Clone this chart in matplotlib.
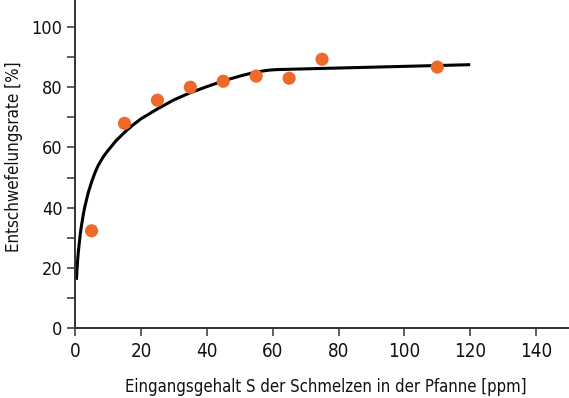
import numpy as np
import matplotlib.pyplot as plt

plt.rcParams['font.family'] = ['DejaVu Sans']
plt.rcParams['font.stretch'] = 'condensed'

# Messpunkte
s_ppm = [5, 15, 25, 35, 45, 55, 65, 75, 110]
rate = [32.3, 68, 75.7, 80, 82, 83.7, 83, 89.3, 86.7]

# Ausgleichskurve
curve_x = [0.4, 0.6, 0.8, 1, 1.3, 1.6, 2, 2.5, 3, 3.5, 4, 5, 6, 7, 8.5, 10, 12.5, 15, 17.5,
           20, 25, 30, 35, 40, 45, 50, 54, 57, 59, 61, 64, 120]
curve_y = [16, 20, 23, 25.5, 28.5, 31.5, 34.5, 37.8, 40.5, 42.8, 45, 48.5, 51.5, 54, 56.8,
           59, 62.3, 65, 67.4, 69.5, 72.8, 75.8, 78.2, 80.2, 82.1, 83.7, 84.8, 85.4, 85.7,
           85.85, 85.95, 87.5]

x_ticks = [0, 20, 40, 60, 80, 100, 120, 140]
y_major = [0, 20, 40, 60, 80, 100]
y_minor = [10, 30, 50, 70, 90]

fig = plt.figure(figsize=(5.69, 3.98), dpi=100)
ax = fig.add_axes([0.132, 0.176, 0.868, 0.824])

ax.plot(curve_x, curve_y, color='black', linewidth=2.2, solid_capstyle='butt',
        solid_joinstyle='round', zorder=2)
ax.scatter(s_ppm, rate, s=90, color='#EE6A2A', edgecolors='none', zorder=3)

ax.set_xlim(0, 150)
ax.set_ylim(0, 109)
ax.set_xticks(x_ticks)
ax.set_yticks(y_major)
ax.set_yticks(y_minor, minor=True)

for sp in ['top', 'right']:
    ax.spines[sp].set_visible(False)
for sp in ['left', 'bottom']:
    ax.spines[sp].set_color('#333333')
    ax.spines[sp].set_linewidth(1.4)

ax.tick_params(which='both', direction='out', length=6, width=1.1, color='#333333',
               labelcolor='#111111', pad=3)
ax.tick_params(axis='y', labelsize=13)
ax.tick_params(axis='x', labelsize=13.5, pad=4)

ax.set_xlabel('Eingangsgehalt S der Schmelzen in der Pfanne [ppm]', fontsize=12,
              color='#111111', va='baseline')
ax.xaxis.set_label_coords(0.508, -0.195)
ax.set_ylabel('Entschwefelungsrate [%]', fontsize=12.2, color='#111111')
ax.yaxis.set_label_coords(-0.105, 0.521)

fig.savefig('out.png', dpi=100)
